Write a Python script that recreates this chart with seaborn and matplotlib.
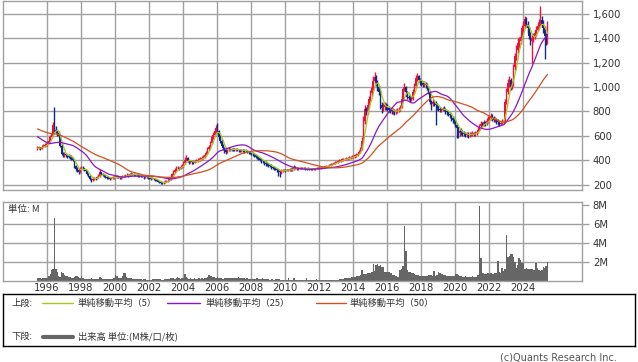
import numpy as np
import pandas as pd
import matplotlib
matplotlib.use("Agg")
import matplotlib.pyplot as plt
import seaborn as sns

# ---------------- data (monthly, Jun 1995 .. Jun 2025) ----------------
start_year, start_month = 1995, 6

# closes before the displayed window (May 1991 .. May 1995), only used to seed the moving averages
prior_close = [760, 750, 740, 745, 730, 720, 725, 715,
               720, 730, 725, 715, 710, 720, 715, 705, 710, 720, 715, 710,
               705, 700, 710, 700, 695, 700, 710, 705, 695, 690, 695, 660,
               650, 640, 630, 620, 610, 595, 570, 555, 540, 530, 520, 510,
               505, 500, 498, 495, 500]

close = [
    500, 505, 495, 510, 520, 525, 530,                              # 1995
    540, 560, 590, 620, 690, 650, 640, 620, 600, 520, 450, 440,     # 1996
    450, 440, 435, 430, 425, 420, 400, 350, 330, 320, 300, 330,     # 1997
    340, 335, 320, 310, 290, 270, 245, 240, 250, 255, 250, 262,     # 1998
    270, 300, 290, 280, 270, 265, 258, 255, 250, 255, 258, 260,     # 1999
    262, 265, 262, 258, 262, 270, 268, 275, 280, 272, 285, 290,     # 2000
    285, 280, 282, 278, 275, 272, 270, 268, 262, 265, 262, 258,     # 2001
    255, 250, 252, 245, 240, 235, 225, 218, 215, 212, 220, 225,     # 2002
    228, 232, 245, 265, 285, 305, 320, 335, 340, 330, 345, 350,     # 2003
    380, 400, 420, 395, 385, 390, 385, 380, 390, 395, 400, 405,     # 2004
    410, 420, 430, 440, 460, 490, 510, 540, 590, 610, 640, 660,     # 2005
    640, 590, 560, 520, 500, 480, 470, 485, 490, 485, 490, 488,     # 2006
    484, 490, 485, 482, 480, 485, 480, 475, 478, 470, 465, 460,     # 2007
    455, 450, 440, 430, 420, 415, 405, 395, 390, 380, 370, 365,     # 2008
    360, 355, 345, 340, 335, 330, 320, 310, 300, 315, 318, 320,     # 2009
    318, 320, 322, 325, 320, 328, 340, 335, 330, 332, 335, 336,     # 2010
    334, 335, 332, 330, 333, 331, 330, 328, 330, 332, 335, 336,     # 2011
    338, 340, 342, 345, 348, 350, 355, 360, 365, 370, 375, 380,     # 2012
    385, 390, 395, 402, 405, 408, 410, 412, 416, 420, 425, 430,     # 2013
    430, 440, 445, 455, 470, 490, 560, 720, 820, 800, 850, 900,     # 2014
    950, 990, 1050, 1080, 1040, 1000, 960, 850, 830, 840, 850, 845,  # 2015
    830, 815, 810, 800, 805, 795, 800, 810, 815, 830, 900, 980,     # 2016
    1000, 960, 920, 910, 900, 905, 960, 1010, 1070, 1090, 1060, 1040,  # 2017
    1030, 1020, 1025, 1015, 1000, 960, 880, 860, 880, 870, 850, 840,   # 2018
    820, 810, 815, 825, 820, 800, 795, 780, 770, 750, 730, 720,     # 2019
    690, 660, 620, 640, 630, 620, 615, 610, 612, 605, 610, 615,     # 2020
    620, 615, 620, 630, 650, 680, 700, 690, 710, 700, 720, 735,     # 2021
    745, 760, 740, 730, 735, 720, 710, 700, 705, 715, 720, 880,     # 2022
    960, 1030, 1060, 1000, 1020, 1160, 1250, 1300, 1360, 1380, 1410, 1480,  # 2023
    1500, 1560, 1520, 1480, 1420, 1380, 1400, 1410, 1440, 1470, 1500, 1520,  # 2024
    1550, 1520, 1480, 1420, 1380, 1400,                              # 2025
]

open_ = [
    490, 500, 505, 495, 510, 520, 525,
    530, 540, 560, 590, 620, 690, 650, 640, 620, 600, 520, 450,
    440, 450, 440, 435, 430, 425, 420, 400, 350, 330, 320, 300,
    330, 340, 335, 320, 310, 290, 270, 245, 240, 250, 255, 250,
    262, 270, 300, 290, 280, 270, 265, 258, 255, 250, 255, 258,
    260, 262, 265, 262, 258, 262, 270, 268, 275, 280, 272, 285,
    290, 285, 280, 282, 278, 275, 272, 270, 268, 262, 265, 262,
    258, 255, 250, 252, 245, 240, 235, 225, 218, 215, 212, 220,
    225, 228, 232, 245, 265, 285, 305, 320, 335, 340, 330, 345,
    350, 380, 400, 420, 395, 385, 390, 385, 380, 390, 395, 400,
    405, 410, 420, 430, 440, 460, 490, 510, 540, 590, 610, 640,
    660, 640, 590, 560, 520, 500, 480, 470, 485, 490, 485, 490,
    488, 484, 490, 485, 482, 480, 485, 480, 475, 478, 470, 465,
    460, 455, 450, 440, 430, 420, 415, 405, 395, 390, 380, 370,
    365, 360, 355, 345, 340, 335, 330, 320, 310, 300, 315, 318,
    320, 318, 320, 322, 325, 320, 328, 340, 335, 330, 332, 335,
    336, 334, 335, 332, 330, 333, 331, 330, 328, 330, 332, 335,
    336, 338, 340, 342, 345, 348, 350, 355, 360, 365, 370, 375,
    380, 385, 390, 395, 402, 405, 408, 410, 412, 416, 420, 425,
    430, 430, 440, 445, 455, 470, 490, 560, 720, 820, 800, 850,
    900, 950, 990, 1050, 1080, 1040, 1000, 960, 850, 830, 840, 850,
    845, 830, 815, 810, 800, 805, 795, 800, 810, 815, 830, 900,
    980, 1000, 960, 920, 910, 900, 905, 960, 1010, 1070, 1090, 1060,
    1040, 1030, 1020, 1025, 1015, 1000, 960, 880, 860, 880, 870, 850,
    840, 820, 810, 815, 825, 820, 800, 795, 780, 770, 750, 730,
    720, 690, 660, 620, 640, 630, 620, 615, 610, 612, 605, 610,
    615, 620, 615, 620, 630, 650, 680, 700, 690, 710, 700, 720,
    735, 745, 760, 740, 730, 735, 720, 710, 700, 705, 715, 720,
    880, 960, 1030, 1060, 1000, 1020, 1160, 1250, 1300, 1360, 1380, 1410,
    1480, 1500, 1560, 1520, 1480, 1420, 1380, 1400, 1410, 1440, 1470, 1500,
    1520, 1550, 1520, 1480, 1420, 1380,
]

high = [
    515, 520, 510, 525, 535, 540, 545,
    560, 580, 610, 640, 710, 840, 680, 650, 640, 610, 530, 470,
    470, 460, 455, 450, 445, 440, 430, 410, 360, 345, 335, 345,
    355, 350, 340, 325, 315, 295, 275, 255, 260, 265, 262, 270,
    285, 330, 305, 295, 285, 278, 270, 265, 262, 265, 268, 270,
    272, 275, 272, 268, 270, 280, 278, 285, 292, 285, 298, 302,
    298, 292, 290, 288, 285, 282, 280, 278, 272, 275, 272, 268,
    266, 262, 260, 258, 252, 248, 242, 232, 226, 222, 228, 235,
    236, 240, 255, 275, 295, 318, 335, 350, 355, 348, 358, 365,
    392, 425, 440, 425, 405, 402, 398, 392, 402, 410, 415, 420,
    425, 435, 445, 455, 475, 505, 528, 560, 610, 630, 665, 690,
    705, 650, 605, 570, 530, 510, 490, 498, 505, 500, 502, 500,
    498, 502, 500, 495, 492, 496, 494, 488, 490, 486, 478, 474,
    470, 466, 460, 452, 440, 432, 425, 415, 405, 400, 390, 382,
    375, 370, 365, 355, 350, 345, 340, 330, 318, 328, 330, 332,
    330, 330, 332, 335, 334, 342, 362, 350, 342, 342, 345, 346,
    344, 344, 342, 340, 342, 340, 338, 336, 338, 340, 343, 345,
    346, 348, 350, 354, 356, 358, 364, 368, 374, 380, 385, 390,
    396, 400, 406, 414, 418, 420, 422, 424, 428, 432, 438, 442,
    442, 452, 458, 468, 482, 505, 590, 760, 850, 835, 875, 925,
    975, 1020, 1090, 1126, 1095, 1060, 1020, 975, 880, 870, 875, 870,
    860, 845, 835, 825, 825, 818, 820, 830, 835, 850, 935, 1000,
    1035, 1010, 970, 935, 925, 930, 980, 1035, 1095, 1113, 1095, 1075,
    1060, 1050, 1045, 1040, 1030, 1010, 965, 895, 900, 895, 885, 865,
    850, 838, 830, 840, 842, 830, 815, 805, 795, 785, 765, 745,
    735, 705, 680, 655, 660, 650, 640, 632, 630, 628, 630, 635,
    640, 635, 638, 648, 670, 700, 720, 715, 730, 725, 745, 760,
    770, 785, 775, 760, 755, 750, 738, 725, 725, 735, 740, 900,
    990, 1065, 1090, 1070, 1050, 1190, 1280, 1340, 1400, 1410, 1440, 1510,
    1540, 1582, 1575, 1540, 1500, 1450, 1430, 1440, 1470, 1500, 1530, 1555,
    1664, 1580, 1545, 1500, 1440, 1544,
]

low = [
    485, 490, 485, 490, 505, 510, 515,
    520, 530, 550, 580, 610, 630, 625, 600, 590, 510, 440, 425,
    430, 425, 420, 415, 410, 405, 390, 340, 315, 305, 290, 295,
    325, 320, 310, 295, 280, 260, 235, 225, 232, 242, 240, 245,
    255, 265, 282, 272, 262, 258, 250, 245, 242, 245, 248, 250,
    252, 255, 252, 248, 250, 255, 260, 262, 268, 262, 268, 278,
    275, 272, 272, 270, 266, 264, 262, 260, 250, 255, 252, 248,
    246, 242, 244, 238, 232, 226, 218, 210, 206, 204, 208, 214,
    218, 222, 228, 240, 258, 278, 298, 312, 325, 318, 325, 338,
    345, 372, 392, 385, 372, 375, 372, 368, 375, 382, 388, 392,
    395, 402, 412, 420, 432, 452, 480, 500, 530, 575, 598, 625,
    620, 575, 545, 505, 485, 462, 450, 462, 475, 472, 476, 475,
    472, 475, 472, 470, 468, 470, 466, 462, 465, 458, 452, 448,
    442, 438, 428, 418, 408, 402, 392, 380, 376, 362, 355, 350,
    348, 342, 332, 328, 322, 318, 302, 270, 266, 290, 305, 308,
    305, 308, 310, 314, 310, 315, 322, 325, 320, 322, 325, 326,
    326, 326, 322, 320, 324, 322, 320, 318, 320, 322, 326, 328,
    330, 332, 334, 336, 340, 342, 346, 350, 355, 360, 365, 370,
    374, 378, 384, 388, 394, 396, 398, 400, 404, 408, 412, 418,
    418, 422, 430, 438, 448, 462, 480, 545, 700, 770, 780, 830,
    885, 930, 975, 1030, 1010, 970, 935, 820, 790, 805, 815, 810,
    805, 795, 790, 775, 780, 770, 780, 788, 795, 805, 825, 890,
    965, 945, 900, 890, 880, 885, 895, 950, 995, 1050, 1040, 1020,
    1010, 1000, 1000, 995, 975, 940, 860, 812, 845, 845, 690, 815,
    800, 792, 795, 805, 800, 780, 770, 760, 745, 725, 705, 695,
    670, 585, 578, 600, 610, 598, 595, 590, 592, 585, 590, 596,
    600, 598, 600, 610, 620, 640, 665, 670, 680, 680, 690, 705,
    720, 730, 720, 710, 712, 700, 690, 682, 685, 695, 700, 712,
    860, 940, 1000, 975, 985, 1005, 1140, 1220, 1280, 1320, 1350, 1390,
    1450, 1480, 1490, 1440, 1390, 1340, 1197, 1370, 1390, 1420, 1455, 1480,
    1500, 1490, 1440, 1230, 1340, 1350,
]

volume_m = [
    0.25, 0.3, 0.25, 0.2, 0.25, 0.3, 0.25,
    0.3, 0.5, 0.7, 1.15, 1.2, 6.7, 1.2, 0.9, 0.5, 0.4, 0.9, 0.8,
    0.6, 0.5, 0.45, 0.4, 0.35, 0.3, 0.25, 0.4, 0.5, 0.45, 0.35, 0.3,
    0.45, 0.3, 0.2, 0.2, 0.15, 0.15, 0.2, 0.25, 0.2, 0.15, 0.15, 0.2,
    0.2, 0.35, 0.25, 0.2, 0.15, 0.15, 0.15, 0.2, 0.15, 0.2, 0.2, 0.25,
    0.6, 0.5, 0.3, 0.25, 0.3, 0.5, 0.85, 0.8, 0.35, 0.25, 0.3, 0.25,
    0.2, 0.2, 0.15, 0.15, 0.2, 0.2, 0.15, 0.1, 0.15, 0.15, 0.1, 0.1,
    0.1, 0.1, 0.15, 0.15, 0.2, 0.15, 0.15, 0.2, 0.15, 0.1, 0.1, 0.2,
    0.2, 0.15, 0.2, 0.3, 0.3, 0.25, 0.2, 0.3, 0.35, 0.3, 0.2, 0.25,
    0.3, 0.65, 0.4, 0.25, 0.2, 0.25, 0.2, 0.2, 0.25, 0.2, 0.2, 0.25,
    0.2, 0.25, 0.2, 0.3, 0.3, 0.4, 0.6, 0.5, 0.45, 0.4, 0.35, 0.3,
    0.35, 0.3, 0.3, 0.25, 0.2, 0.25, 0.3, 0.25, 0.3, 0.25, 0.3, 0.25,
    0.3, 0.3, 0.25, 0.35, 0.3, 0.25, 0.3, 0.25, 0.2, 0.25, 0.2, 0.2,
    0.2, 0.2, 0.15, 0.2, 0.25, 0.2, 0.2, 0.2, 0.25, 0.2, 0.15, 0.15,
    0.15, 0.1, 0.15, 0.15, 0.1, 0.15, 0.2, 0.2, 0.15, 0.1, 0.1, 0.1,
    0.05, 0.1, 0.3, 0.1, 0.1, 0.05, 0.25, 0.1, 0.05, 0.1, 0.05, 0.05,
    0.1, 0.05, 0.05, 0.25, 0.1, 0.05, 0.05, 0.05, 0.1, 0.05, 0.2, 0.05,
    0.05, 0.05, 0.05, 0.05, 0.05, 0.1, 0.1, 0.05, 0.05, 0.05, 0.1, 0.1,
    0.1, 0.1, 0.15, 0.15, 0.2, 0.2, 0.25, 0.25, 0.3, 0.3, 0.3, 0.35,
    0.4, 0.4, 0.45, 0.45, 0.5, 0.55, 1.15, 0.7, 0.7, 0.7, 0.75, 0.8,
    0.8, 0.9, 1.76, 1.0, 1.7, 1.75, 1.5, 1.6, 1.4, 1.4, 0.9, 0.9,
    0.9, 0.9, 0.85, 0.8, 0.6, 0.6, 0.5, 0.4, 0.4, 1.15, 1.2, 1.5,
    5.8, 3.1, 1.15, 0.9, 0.9, 0.85, 0.8, 0.7, 0.6, 0.6, 0.55, 0.5,
    0.5, 0.5, 0.45, 0.45, 0.5, 0.55, 0.6, 0.6, 0.5, 1.05, 0.5, 0.55,
    0.9, 0.8, 0.7, 0.7, 0.6, 0.55, 0.5, 0.5, 0.45, 0.45, 0.5, 0.5,
    0.7, 0.7, 0.6, 0.45, 0.45, 0.4, 0.4, 0.45, 0.35, 0.35, 0.4, 0.4,
    0.45, 0.4, 0.35, 0.4, 0.55, 7.95, 2.4, 0.8, 0.75, 0.7, 0.7, 0.75,
    0.7, 0.75, 0.7, 0.7, 0.75, 0.8, 2.05, 0.9, 0.8, 1.3, 1.0, 1.2,
    4.8, 2.5, 2.6, 2.85, 2.8, 2.5, 2.0, 1.3, 1.6, 2.4, 2.2, 1.85,
    1.85, 1.25, 1.3, 1.2, 1.25, 1.25, 1.2, 1.1, 1.1, 1.85, 1.3, 1.15,
    1.0, 1.1, 1.4, 1.3, 1.5, 2.0,
]

year_ticks = list(range(1996, 2026, 2))
price_ticks = [200, 400, 600, 800, 1000, 1200, 1400, 1600]
volume_ticks = [2, 4, 6, 8]
ma_windows = [5, 25, 50]
legend_top = ["単純移動平均（5）", "単純移動平均（25）", "単純移動平均（50）"]
legend_bottom = "出来高 単位:(M株/口/枚)"

# ---------------- derived frame ----------------
n = len(close)
t = start_year + (start_month - 1 + np.arange(n) + 0.5) / 12.0
df = pd.DataFrame({"t": t, "open": open_, "high": high, "low": low,
                   "close": close, "vol": volume_m})
full_close = pd.Series(prior_close + close, dtype=float)
for w in ma_windows:
    df[f"ma{w}"] = full_close.rolling(w).mean().iloc[len(prior_close):].to_numpy()

# ---------------- style ----------------
sns.set_theme(style="white")
plt.rcParams['font.family'] = ['DejaVu Sans', 'Noto Sans CJK JP']
JP = ['Noto Sans CJK JP', 'DejaVu Sans']
GRID = '#a0a0a0'
TXT = '#333333'
UP, DOWN = '#f0103c', '#102a8c'
MA_COLORS = ['#a8c81e', '#8c14c8', '#d2501e']

W, H = 638, 362
fig = plt.figure(figsize=(W / 100, H / 100), dpi=100)
fig.patch.set_facecolor('white')

def px_axes(x0, y0, x1, y1):
    return fig.add_axes([x0 / W, 1 - y1 / H, (x1 - x0) / W, (y1 - y0) / H])

ax1 = px_axes(3.3, 0.7, 582.3, 190.0)
ax2 = px_axes(3.3, 202.0, 582.3, 280.5)
ax3 = px_axes(3.0, 294.3, 635.0, 345.7)

xlim = (1993.447, 2027.506)

for ax in (ax1, ax2):
    ax.set_facecolor('white')
    for s in ax.spines.values():
        s.set_color(GRID)
        s.set_linewidth(1.0)
    ax.set_xlim(*xlim)
    ax.set_xticks(year_ticks)
    ax.yaxis.tick_right()
    ax.tick_params(axis='y', which='both', length=5.0, width=1.0, color=GRID,
                   pad=2.6, labelsize=7.2, labelcolor=TXT, right=True, left=False)
    ax.tick_params(axis='x', length=0, pad=2, labelsize=7.2, labelcolor=TXT)
    for xv in year_ticks:
        ax.axvline(xv, color=GRID, lw=1.0, zorder=0)

# ---- price panel ----
ax1.set_ylim(156, 1707)
ax1.set_yticks(price_ticks)
ax1.set_yticklabels([f"{v:,}" for v in price_ticks])
ax1.tick_params(axis='x', labelbottom=False)
for yv in price_ticks:
    ax1.axhline(yv, color=GRID, lw=1.0, zorder=0)

up = df["close"] >= df["open"]
cols = np.where(up, UP, DOWN)
ax1.vlines(df["t"], df["low"], df["high"], colors=cols, lw=1.0, zorder=2)
body_lo = np.minimum(df["open"], df["close"])
body_h = np.maximum(np.abs(df["close"] - df["open"]), 5)
ax1.bar(df["t"], body_h, bottom=body_lo, width=0.095, color=cols,
        linewidth=0, zorder=2)

for w, c in zip(ma_windows, MA_COLORS):
    sns.lineplot(data=df, x="t", y=f"ma{w}", color=c, lw=0.9, ax=ax1, zorder=3)
ax1.set_xlabel("")
ax1.set_ylabel("")

# ---- volume panel ----
edges = list(start_year + (start_month - 1 + np.arange(n + 1)) / 12.0)
sns.histplot(x=df["t"].to_numpy(), weights=df["vol"].to_numpy(), bins=edges,
             color='#666666', alpha=1.0, linewidth=0, ax=ax2, zorder=2)
ax2.set_ylim(0, 8.35)
ax2.set_yticks(volume_ticks)
ax2.set_yticklabels([f"{v}M" for v in volume_ticks])
for yv in volume_ticks[:-1]:
    ax2.axhline(yv, color=GRID, lw=1.0, zorder=0)
ax2.set_xticks(year_ticks)
ax2.set_xticklabels([str(y) for y in year_ticks])
ax2.set_xlim(*xlim)
ax2.set_xlabel("")
ax2.set_ylabel("")
ax2.text(0.008, 0.90, "単位: M", transform=ax2.transAxes, fontsize=6.8,
         color=TXT, family=JP, va='center', ha='left', zorder=5)

# ---- legend box ----
ax3.set_xlim(0, 632)
ax3.set_ylim(51.4, 0)
ax3.set_xticks([])
ax3.set_yticks([])
for s in ax3.spines.values():
    s.set_color('#000000')
    s.set_linewidth(1.0)
y_top, y_bot = 9.0, 42.4
FS = 6.7
ax3.text(9, y_top, "上段:", fontsize=FS, family=JP, color=TXT, va='center')
ax3.text(9, y_bot, "下段:", fontsize=FS, family=JP, color=TXT, va='center')
for (x0, x1, xt), c, lab in zip([(39, 70, 75), (164, 197, 203), (313, 343, 347)],
                                MA_COLORS, legend_top):
    ax3.plot([x0, x1], [y_top, y_top], color=c, lw=1.0)
    ax3.text(xt, y_top, lab, fontsize=FS, family=JP, color=TXT, va='center')
ax3.plot([40, 70], [y_bot, y_bot], color='#666666', lw=3.0)
ax3.text(75, y_bot, legend_bottom, fontsize=FS, family=JP, color=TXT, va='center')

fig.text(500 / W, 1 - 357 / H, "(c)Quants Research Inc.", fontsize=7,
         color='#555555', va='center', ha='left')

fig.savefig("out.png", dpi=100, facecolor='white')
